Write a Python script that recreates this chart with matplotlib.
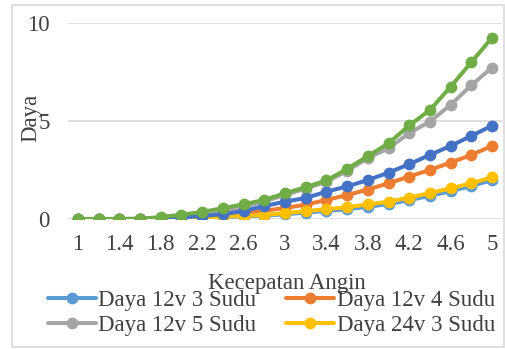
import matplotlib
matplotlib.use('Agg')
import matplotlib.pyplot as plt
from matplotlib.patches import Rectangle

# kecepatan angin 1.0 .. 5.0 (langkah 0.2)
kecepatan = ['1', '1.2', '1.4', '1.6', '1.8', '2', '2.2', '2.4', '2.6', '2.8', '3',
             '3.2', '3.4', '3.6', '3.8', '4', '4.2', '4.4', '4.6', '4.8', '5']
label_tampil = ['1', '1.4', '1.8', '2.2', '2.6', '3', '3.4', '3.8', '4.2', '4.6', '5']

daya_12v_3 = [0, 0, 0, 0, 0.02, 0.05, 0.08, 0.10, 0.13, 0.17, 0.24, 0.33, 0.41, 0.50, 0.62, 0.76, 0.96, 1.18, 1.42, 1.68, 1.98]
daya_12v_4 = [0, 0, 0, 0, 0.03, 0.07, 0.12, 0.20, 0.30, 0.42, 0.56, 0.73, 0.97, 1.22, 1.50, 1.82, 2.16, 2.50, 2.87, 3.26, 3.72]
daya_12v_5 = [0, 0, 0, 0.01, 0.06, 0.14, 0.26, 0.40, 0.60, 0.90, 1.22, 1.55, 1.90, 2.45, 3.10, 3.60, 4.37, 4.96, 5.81, 6.81, 7.71]
daya_24v_3 = [0, 0, 0, 0, 0.02, 0.05, 0.08, 0.12, 0.16, 0.20, 0.30, 0.40, 0.50, 0.60, 0.74, 0.88, 1.09, 1.32, 1.56, 1.82, 2.12]
daya_24v_4 = [0, 0, 0, 0, 0.03, 0.08, 0.15, 0.25, 0.40, 0.66, 0.88, 1.07, 1.39, 1.66, 1.98, 2.36, 2.79, 3.26, 3.72, 4.23, 4.75]
daya_24v_5 = [0, 0, 0, 0.01, 0.10, 0.22, 0.36, 0.55, 0.75, 0.97, 1.31, 1.62, 1.96, 2.55, 3.20, 3.85, 4.76, 5.55, 6.73, 7.98, 9.23]

seri = [
    ('Daya 12v 3 Sudu', daya_12v_3, '#5B9BD5'),
    ('Daya 12v 4 Sudu', daya_12v_4, '#ED7D31'),
    ('Daya 12v 5 Sudu', daya_12v_5, '#A5A5A5'),
    ('Daya 24v 3 Sudu', daya_24v_3, '#FFC000'),
    ('Daya 24v 4 Sudu', daya_24v_4, '#4472C4'),
    ('Daya 24v 5 Sudu', daya_24v_5, '#70AD47'),
]

plt.rcParams['font.family'] = ['Liberation Serif', 'DejaVu Serif']
plt.rcParams['font.size'] = 16.5
teks = '#404040'

fig = plt.figure(figsize=(5.06, 3.49), dpi=100)
fig.patches.append(Rectangle((12 / 506, 2 / 349), 492 / 506, 342 / 349, transform=fig.transFigure,
                             fill=False, edgecolor='#D9D9D9', linewidth=1.2))
ax = fig.add_axes([0.1336, 0.3725, 0.8593, 0.563])

x = list(range(len(kecepatan)))
garis = []
for nama, nilai, warna in seri:
    g, = ax.plot(x, nilai, color=warna, linewidth=2.9, marker='o', markersize=8.5,
                 markeredgewidth=0, label=nama, solid_capstyle='round')
    garis.append(g)

ax.set_xlim(-0.5, len(kecepatan) - 0.5)
ax.set_ylim(0, 10)
ax.set_yticks([0, 5, 10])
ax.set_xticks([kecepatan.index(t) for t in label_tampil])
ax.set_xticklabels(label_tampil)
ax.grid(axis='y', color='#D9D9D9', linewidth=1.2)
ax.set_axisbelow(True)
for s in ax.spines.values():
    s.set_visible(False)
ax.tick_params(axis='both', length=0, colors=teks)
ax.tick_params(axis='y', pad=13)
ax.tick_params(axis='x', pad=11)

fig.text(0.060, 0.662, 'Daya', rotation=90, ha='center', va='center', color=teks)
fig.text(0.567, 0.187, 'Kecepatan Angin', ha='center', va='center', color=teks)

# hanya empat seri pertama yang muat di legenda, diisi per baris
urutan = [garis[0], garis[2], garis[1], garis[3]]
fig.legend(handles=urutan, loc='upper left', bbox_to_anchor=(48 / 506, 1 - 290 / 349),
           ncol=2, frameon=False, borderpad=0, borderaxespad=0, handlelength=2.1,
           handletextpad=0.1, columnspacing=1.3, labelspacing=0.15, labelcolor=teks)

fig.savefig('out.png', dpi=100)
